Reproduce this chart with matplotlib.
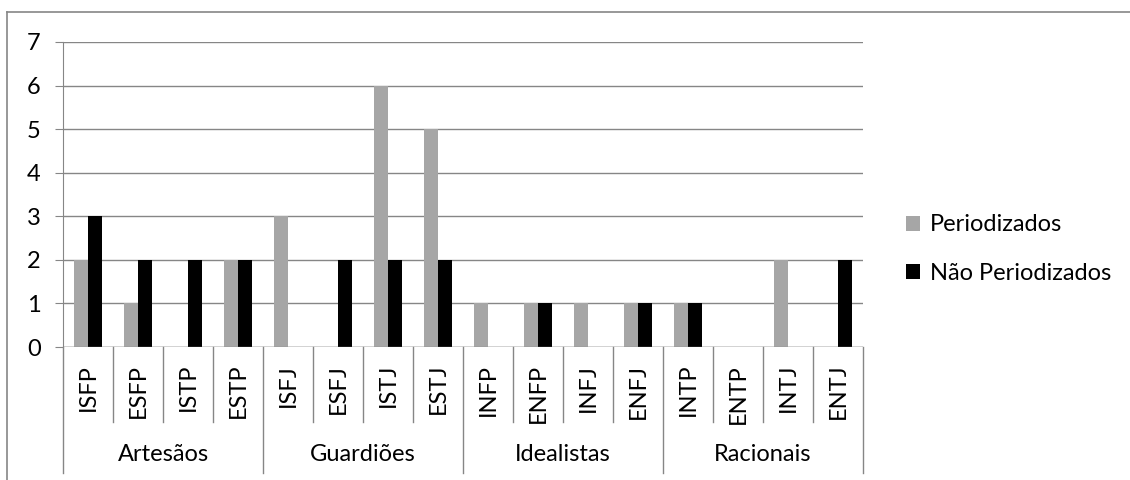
import numpy as np
import matplotlib.pyplot as plt
from matplotlib.lines import Line2D
import matplotlib.transforms as mtransforms

plt.rcParams['font.family'] = ['Lato', 'DejaVu Sans']

groups = ["Artesãos", "Guardiões", "Idealistas", "Racionais"]
types = ["ISFP", "ESFP", "ISTP", "ESTP",
         "ISFJ", "ESFJ", "ISTJ", "ESTJ",
         "INFP", "ENFP", "INFJ", "ENFJ",
         "INTP", "ENTP", "INTJ", "ENTJ"]
periodizados = [2, 1, 0, 2, 3, 0, 6, 5, 1, 1, 1, 1, 1, 0, 2, 0]
nao_periodizados = [3, 2, 2, 2, 0, 2, 2, 2, 0, 1, 0, 1, 1, 0, 0, 2]

GRAY = "#a6a6a6"
LINE = "#868686"
FS = 17

fig = plt.figure(figsize=(11.3, 4.8), dpi=100)
ax = fig.add_axes([63 / 1130, 1 - 347 / 480, 800 / 1130, 305 / 480])

x = np.arange(len(types)) + 0.5
w = 0.28
ax.bar(x - w / 2, periodizados, w, color=GRAY, label="Periodizados", zorder=3)
ax.bar(x + w / 2, nao_periodizados, w, color="black", label="Não Periodizados", zorder=3)

ax.set_xlim(0, len(types))
ax.set_ylim(0, 7)
ax.set_yticks(range(8))
ax.yaxis.grid(True, color=LINE, lw=1)
ax.set_axisbelow(True)
for s in ["top", "right", "bottom"]:
    ax.spines[s].set_visible(False)
ax.spines["left"].set_color(LINE)
ax.tick_params(axis="y", length=6, color=LINE, pad=10, labelsize=FS)
ax.set_xticks([])
ax.axhline(0, color=LINE, lw=1, zorder=4)

# multi-level category axis
trans = mtransforms.blended_transform_factory(ax.transData, ax.transAxes)
for i in range(len(types) + 1):
    bottom = -0.413 if i % 4 == 0 else -0.246
    ax.add_line(Line2D([i, i], [0, bottom], transform=trans, color=LINE,
                       lw=1, clip_on=False))
for i, t in enumerate(types):
    ax.text(i + 0.5, -0.055, t, transform=trans, rotation=90, ha="center",
            va="top", fontsize=FS)
for g, name in enumerate(groups):
    ax.text(g * 4 + 2, -0.354, name, transform=trans, ha="center",
            va="center", fontsize=FS)

# outer chart border (cropped on right and bottom)
fig.add_artist(Line2D([7 / 1130, 1], [1 - 12 / 480] * 2, color=LINE, lw=1.2))
fig.add_artist(Line2D([7 / 1130] * 2, [0, 1 - 12 / 480], color=LINE, lw=1.2))

ax.legend(loc="center left", bbox_to_anchor=(885 / 1130, 1 - 249 / 480),
          bbox_transform=fig.transFigure, frameon=False, fontsize=FS,
          handlelength=0.6, handleheight=0.6, handletextpad=0.4,
          labelspacing=1.15)

fig.savefig("out.png", dpi=100)
